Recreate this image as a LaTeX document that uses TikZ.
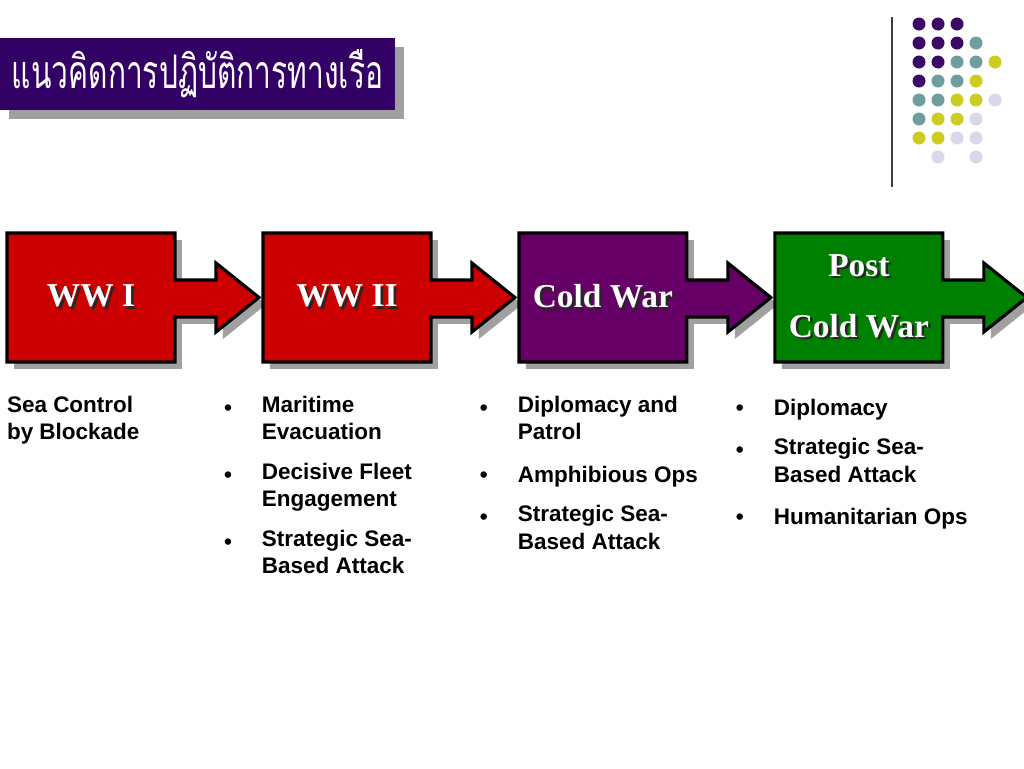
\documentclass[tikz,border=0pt]{standalone}
\usepackage{fontspec}
\setmainfont{Liberation Serif}
\setsansfont{Liberation Sans}
\newfontfamily\thaifont[Script=Thai]{Loma}
\usetikzlibrary{
  positioning,
  shadows,
  backgrounds
}

\definecolor{titlepurple}{RGB}{51,0,102}
\definecolor{stagered}{RGB}{204,0,0}
\definecolor{stageplum}{RGB}{102,0,102}
\definecolor{stagegreen}{RGB}{0,128,0}
\definecolor{shadowgray}{RGB}{160,160,160}
\definecolor{dotpurple}{RGB}{60,10,102}
\definecolor{dotteal}{RGB}{110,158,158}
\definecolor{dotyellow}{RGB}{204,204,34}
\definecolor{dotlilac}{RGB}{216,216,234}

% white text with a dark shadow
\newcommand\shtext[1]{\makebox[0pt][l]{\hspace{0.05cm}\raisebox{-0.05cm}{\color{black!85}#1}}#1}

% box plus arrow behind a stage node
\newcommand\stageshape[2]{%
  \path[draw=black, line width=1.8pt, fill=#2, stageshadow]
    (#1.north west) -- (#1.north east) -- ([shift={(0,47)}]#1.north east)
    -- ([shift={(41,47)}]#1.north east) -- ([shift={(41,30)}]#1.north east)
    -- ([shift={(84,0)}]#1.east)
    -- ([shift={(41,-30)}]#1.south east) -- ([shift={(41,-45)}]#1.south east)
    -- ([shift={(0,-45)}]#1.south east) -- (#1.south east)
    -- (#1.south west) -- cycle;}

\tikzset{
  stagebox/.style={minimum width=3.36cm, minimum height=2.58cm, inner sep=0pt,
    outer sep=0pt, text=white, align=center,
    font=\bfseries\fontsize{19}{23}\selectfont},
  stageshadow/.style={drop shadow={shadow xshift=0.14cm, shadow yshift=-0.14cm,
    fill=shadowgray, opacity=1}},
  titlebox/.style={fill=titlepurple, minimum width=7.9cm, minimum height=1.44cm,
    inner sep=0pt, text=white,
    drop shadow={shadow xshift=0.18cm, shadow yshift=-0.18cm,
    fill=shadowgray, opacity=1}},
  item/.style={anchor=north west, inner sep=0pt, outer sep=0pt, align=left,
    font=\sffamily\bfseries\fontsize{12.8}{15.6}\selectfont,
    execute at begin node=\strut, execute at end node=\strut},
  nextitem/.style={below=0.3cm of #1, anchor=north west},
  bul/.style={anchor=north, inner sep=0pt, outer sep=0pt,
    font=\sffamily\bfseries\fontsize{12.8}{15.6}\selectfont,
    execute at begin node=\strut}
}

\begin{document}
\begin{tikzpicture}[x=0.02cm, y=-0.02cm]
  \useasboundingbox (0,0) rectangle (1024,768);

  % title
  \node[titlebox] (title) at (197.5,74)
    {\scalebox{0.71}[1.1]{\thaifont\fontsize{24}{28}\selectfont แนวคิดการปฏิบัติการทางเรือ}};

  % corner dots
  \draw[line width=1pt, black!75] (892,17) -- (892,187);
  \foreach \c/\r in {1/1,2/1,3/1,1/2,2/2,3/2,1/3,2/3,1/4}
    \fill[dotpurple] ({919+19*(\c-1)},{24+19*(\r-1)}) circle[radius=0.13cm];
  \foreach \c/\r in {4/2,3/3,4/3,2/4,3/4,1/5,2/5,1/6}
    \fill[dotteal] ({919+19*(\c-1)},{24+19*(\r-1)}) circle[radius=0.13cm];
  \foreach \c/\r in {5/3,4/4,3/5,4/5,2/6,3/6,1/7,2/7}
    \fill[dotyellow] ({919+19*(\c-1)},{24+19*(\r-1)}) circle[radius=0.13cm];
  \foreach \c/\r in {5/5,4/6,3/7,4/7,2/8,4/8}
    \fill[dotlilac] ({919+19*(\c-1)},{24+19*(\r-1)}) circle[radius=0.13cm];

  % stages
  \node[stagebox] (ww1) at (91,297.5) {\shtext{WW I}};
  \node[stagebox, right=1.76cm of ww1] (ww2) {\shtext{WW II}};
  \node[stagebox, right=1.76cm of ww2] (cold) {\shtext{Cold War}};
  \node[stagebox, right=1.76cm of cold] (post) {\shtext{Post}\\[11.7pt]\shtext{Cold War}};

  \begin{scope}[on background layer]
    \stageshape{ww1}{stagered}
    \stageshape{ww2}{stagered}
    \stageshape{cold}{stageplum}
    \stageshape{post}{stagegreen}
  \end{scope}

  % WW I
  \node[item] (sea) at ([shift={(0,34)}]ww1.south west) {Sea Control\\by Blockade};

  % WW II
  \node[item] (mar) at ([shift={(-1,34)}]ww2.south west) {Maritime\\Evacuation};
  \node[item, nextitem=mar.south west] (fleet) {Decisive Fleet\\Engagement};
  \node[item, nextitem=fleet.south west] (sba2) {Strategic Sea-\\Based Attack};
  \node[bul] (b21) at ([xshift=-0.68cm]mar.north west) {•};
  \node[bul] (b22) at ([xshift=-0.68cm]fleet.north west) {•};
  \node[bul] (b23) at ([xshift=-0.68cm]sba2.north west) {•};

  % Cold War
  \node[item] (dip3) at ([shift={(-1,34)}]cold.south west) {Diplomacy and\\Patrol};
  \node[item, nextitem=dip3.south west] (amph) {Amphibious Ops};
  \node[item, nextitem=amph.south west] (sba3) {Strategic Sea-\\Based Attack};
  \node[bul] (b31) at ([xshift=-0.68cm]dip3.north west) {•};
  \node[bul] (b32) at ([xshift=-0.68cm]amph.north west) {•};
  \node[bul] (b33) at ([xshift=-0.68cm]sba3.north west) {•};

  % Post Cold War
  \node[item] (dip4) at ([shift={(-1,34)}]post.south west) {Diplomacy};
  \node[item, nextitem=dip4.south west] (sba4) {Strategic Sea-\\Based Attack};
  \node[item, nextitem=sba4.south west] (hum) {Humanitarian Ops};
  \node[bul] (b41) at ([xshift=-0.68cm]dip4.north west) {•};
  \node[bul] (b42) at ([xshift=-0.68cm]sba4.north west) {•};
  \node[bul] (b43) at ([xshift=-0.68cm]hum.north west) {•};
\end{tikzpicture}
\end{document}
